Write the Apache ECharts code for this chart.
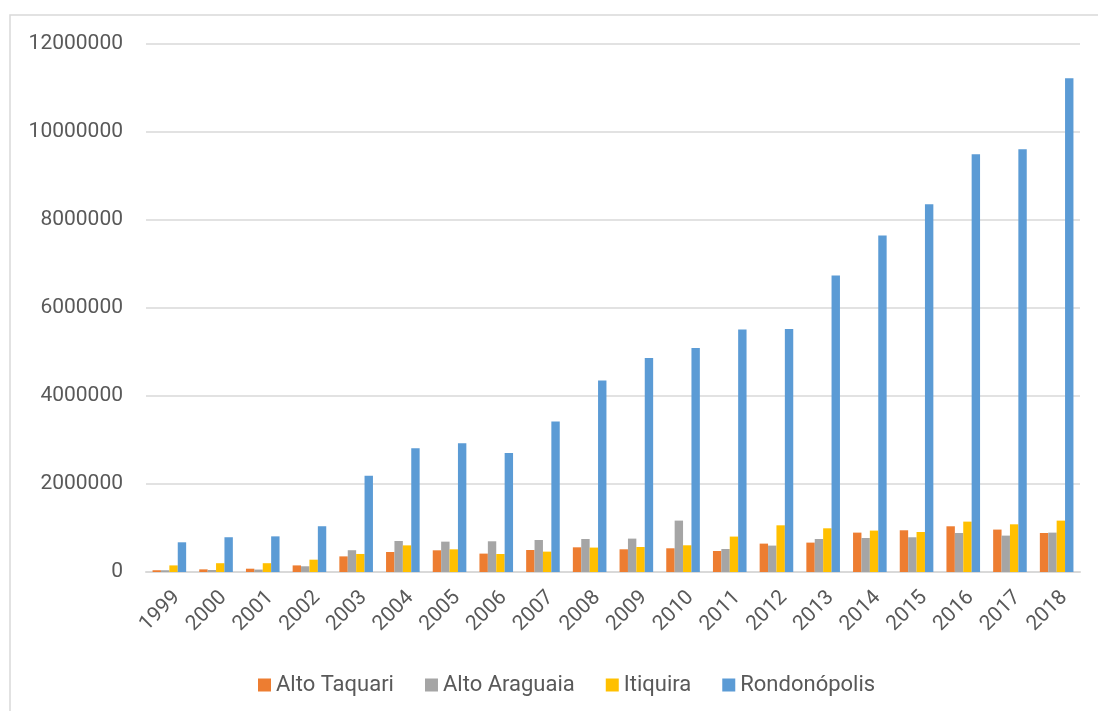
<!DOCTYPE html>
<html>
<head>
<meta charset="utf-8">
<script src="https://cdn.jsdelivr.net/npm/echarts@6/dist/echarts.min.js"></script>
<style>
  html, body { margin: 0; padding: 0; background: #ffffff; }
  #chart { width: 1098px; height: 711px; }
</style>
</head>
<body>
<div id="chart"></div>
<script>
// Years on the category axis
const years = ['1999','2000','2001','2002','2003','2004','2005','2006','2007','2008',
               '2009','2010','2011','2012','2013','2014','2015','2016','2017','2018'];

// Values per municipality
const altoTaquari = [40000, 60000, 75000, 150000, 355000, 455000, 493000, 418000, 500000, 561000,
                     516000, 539000, 477000, 645000, 668000, 895000, 948000, 1039000, 964000, 886000];
const altoAraguaia = [40000, 45000, 55000, 130000, 495000, 705000, 690000, 698000, 727000, 750000,
                      759000, 1168000, 523000, 600000, 750000, 773000, 789000, 886000, 827000, 895000];
const itiquira = [150000, 200000, 200000, 280000, 410000, 605000, 515000, 409000, 463000, 555000,
                  568000, 607000, 805000, 1061000, 993000, 941000, 909000, 1145000, 1084000, 1168000];
const rondonopolis = [675000, 790000, 810000, 1040000, 2190000, 2810000, 2925000, 2705000, 3420000, 4350000,
                      4864000, 5091000, 5509000, 5523000, 6736000, 7645000, 8357000, 9493000, 9607000, 11220000];

const seriesNames = ['Alto Taquari', 'Alto Araguaia', 'Itiquira', 'Rondonópolis'];
const seriesData = [altoTaquari, altoAraguaia, itiquira, rondonopolis];
const seriesColors = ['#ED7D31', '#A5A5A5', '#FFC000', '#5B9BD5'];

const textColor = '#595959';
const fontFamily = 'Roboto, "Liberation Sans", sans-serif';

const chart = echarts.init(document.getElementById('chart'), null, { renderer: 'canvas' });

chart.setOption({
  animation: false,
  backgroundColor: '#ffffff',
  textStyle: { fontFamily: fontFamily },
  graphic: [{
    type: 'rect',
    shape: { x: 10, y: 15, width: 1100, height: 710 },
    style: { fill: 'none', stroke: '#D9D9D9', lineWidth: 1.5 },
    silent: true
  }],
  grid: { left: 146, right: 18, top: 44, bottom: 139, containLabel: false },
  legend: {
    data: seriesNames,
    left: 253,
    top: 669,
    itemWidth: 13,
    itemHeight: 13,
    itemGap: 31,
    icon: 'rect',
    textStyle: { color: textColor, fontSize: 22, fontFamily: fontFamily }
  },
  xAxis: {
    type: 'category',
    data: years,
    axisTick: { show: false },
    axisLine: { lineStyle: { color: '#D9D9D9', width: 2 } },
    axisLabel: {
      rotate: 45,
      margin: 15,
      interval: 0,
      verticalAlign: 'top',
      color: textColor,
      fontSize: 21,
      fontFamily: fontFamily
    }
  },
  yAxis: {
    type: 'value',
    min: 0,
    max: 12000000,
    interval: 2000000,
    axisLine: { show: false },
    axisTick: { show: false },
    splitLine: { lineStyle: { color: '#D9D9D9', width: 1.5 } },
    axisLabel: {
      margin: 23,
      color: textColor,
      fontSize: 21,
      fontFamily: fontFamily,
      formatter: (v) => String(v)
    }
  },
  series: seriesNames.map((name, i) => ({
    name: name,
    type: 'bar',
    data: seriesData[i],
    barWidth: 8.4,
    barGap: '0%',
    itemStyle: { color: seriesColors[i] }
  }))
});
</script>
</body>
</html>
